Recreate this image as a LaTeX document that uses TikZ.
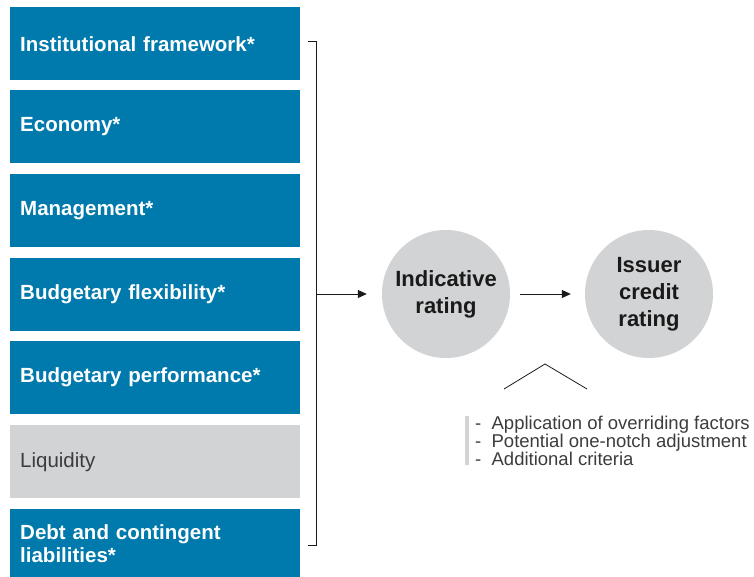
\documentclass[tikz,border=0pt]{standalone}
\usepackage{fontspec}
\setmainfont{Liberation Sans}
\usetikzlibrary{arrows.meta}
\definecolor{sbblue}{RGB}{0,121,172}
\definecolor{sbgray}{RGB}{210,211,213}
\definecolor{sbtext}{RGB}{26,26,26}
\begin{document}
\begin{tikzpicture}[x=1pt,y=-1pt,
  factor/.style={rectangle,fill=sbblue,text=white,anchor=north west,
    minimum width=290pt,minimum height=73pt,text width=270pt,inner xsep=10pt,
    align=left,font=\fontsize{20.5}{23}\selectfont\bfseries},
  factorgray/.style={factor,fill=sbgray,text=sbtext!85,font=\fontsize{20.5}{23}\selectfont},
  rating/.style={circle,fill=sbgray,minimum size=128pt,inner sep=0pt,align=center,
    text=sbtext,font=\fontsize{22}{27}\selectfont\bfseries},
  conn/.style={line width=1pt,draw=sbtext},
  arr/.style={conn,-{Triangle[length=9pt,width=8pt]}}]
\useasboundingbox (0,0) rectangle (754,577);
\node[factor] (f1) at (10,7) {Institutional framework*};
\node[factor] (f2) at (10,90) {Economy*};
\node[factor] (f3) at (10,174) {Management*};
\node[factor] (f4) at (10,258) {Budgetary flexibility*};
\node[factor] (f5) at (10,341) {Budgetary performance*};
\node[factorgray] (f6) at (10,425) {Liquidity};
\node[factor,minimum height=68pt] (f7) at (10,509) {Debt and contingent\\liabilities*};
\coordinate (bt0) at (308,42);
\coordinate (bt) at (316,42);
\coordinate (bb) at (316,545);
\coordinate (bb0) at (308,545);
\coordinate (bm) at (316,294);
\draw[conn] (bt0) -- (bt) -- (bb) -- (bb0);
\node[rating] (ind) at (446,294) {Indicative\\rating};
\node[rating] (icr) at (649,294) {Issuer\\credit\\rating};
\draw[arr] (bm) -- ([xshift=-15pt]ind.west);
\draw[arr] ([xshift=10pt]ind.east) -- ([xshift=-14pt]icr.west);
\coordinate (cl) at (504,389);
\coordinate (ct) at (545,364);
\coordinate (cr) at (587,389);
\draw[line width=0.8pt,draw=sbtext] (cl) -- (ct) -- (cr);
\fill[sbgray] (465,416) rectangle (469,465) coordinate (bar);
\node[anchor=north west,inner sep=0pt,align=left,text=sbtext!85,
  font=\fontsize{18.5}{17.8}\selectfont] (notes) at (475,416)
  {-\ \ Application of overriding factors\\-\ \ Potential one-notch adjustment\\-\ \ Additional criteria};
\end{tikzpicture}
\end{document}
